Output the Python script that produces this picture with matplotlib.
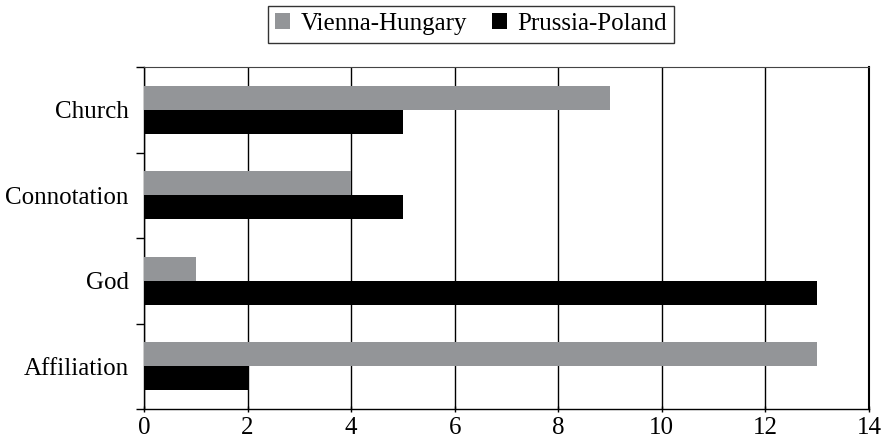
import matplotlib.pyplot as plt
import numpy as np

# data
categories = ['Church', 'Connotation', 'God', 'Affiliation']
vienna_hungary = [9, 4, 1, 13]
prussia_poland = [5, 5, 13, 2]
x_ticks = [0, 2, 4, 6, 8, 10, 12, 14]

plt.rcParams['font.family'] = ['Liberation Serif', 'DejaVu Serif']
plt.rcParams['font.size'] = 18

fig = plt.figure(figsize=(8.84, 4.43), dpi=100)
ax = fig.add_axes([144 / 884, 1 - 409 / 443, (869 - 144) / 884, (409 - 67) / 443])

# groups top to bottom
pos = np.arange(len(categories))[::-1]
h = 0.28
ax.barh(pos + h / 2, vienna_hungary, height=h, color='#939598', label='Vienna-Hungary', zorder=3)
ax.barh(pos - h / 2, prussia_poland, height=h, color='black', label='Prussia-Poland', zorder=3)

ax.set_xlim(0, 14)
ax.set_ylim(-0.5, len(categories) - 0.5)
ax.set_xticks(x_ticks)
ax.xaxis.grid(True, color='black', linewidth=1.0, zorder=0)

# category labels in the middle, ticks at the boundaries
ax.set_yticks(pos)
ax.set_yticklabels(categories)
ax.set_yticks(np.arange(len(categories) + 1) - 0.5, minor=True)
ax.tick_params(axis='y', which='major', length=0, pad=11)
ax.tick_params(axis='y', which='minor', length=6, width=1, direction='out')
ax.tick_params(axis='x', length=5, width=1, direction='inout', pad=3)

ax.spines['top'].set_color('#444444')
ax.spines['top'].set_linewidth(0.8)
ax.spines['right'].set_linewidth(1.5)
for s in ['left', 'bottom']:
    ax.spines[s].set_linewidth(1.0)

leg = fig.legend(loc='center', bbox_to_anchor=(471 / 884, 1 - 24 / 443), ncol=2,
                 frameon=True, fancybox=False, edgecolor='black', handlelength=0.6,
                 handleheight=0.6, handletextpad=0.4, columnspacing=1.0, borderpad=0.3,
                 fontsize=18)
leg.get_frame().set_linewidth(1.0)

fig.savefig('out.png', dpi=100)
